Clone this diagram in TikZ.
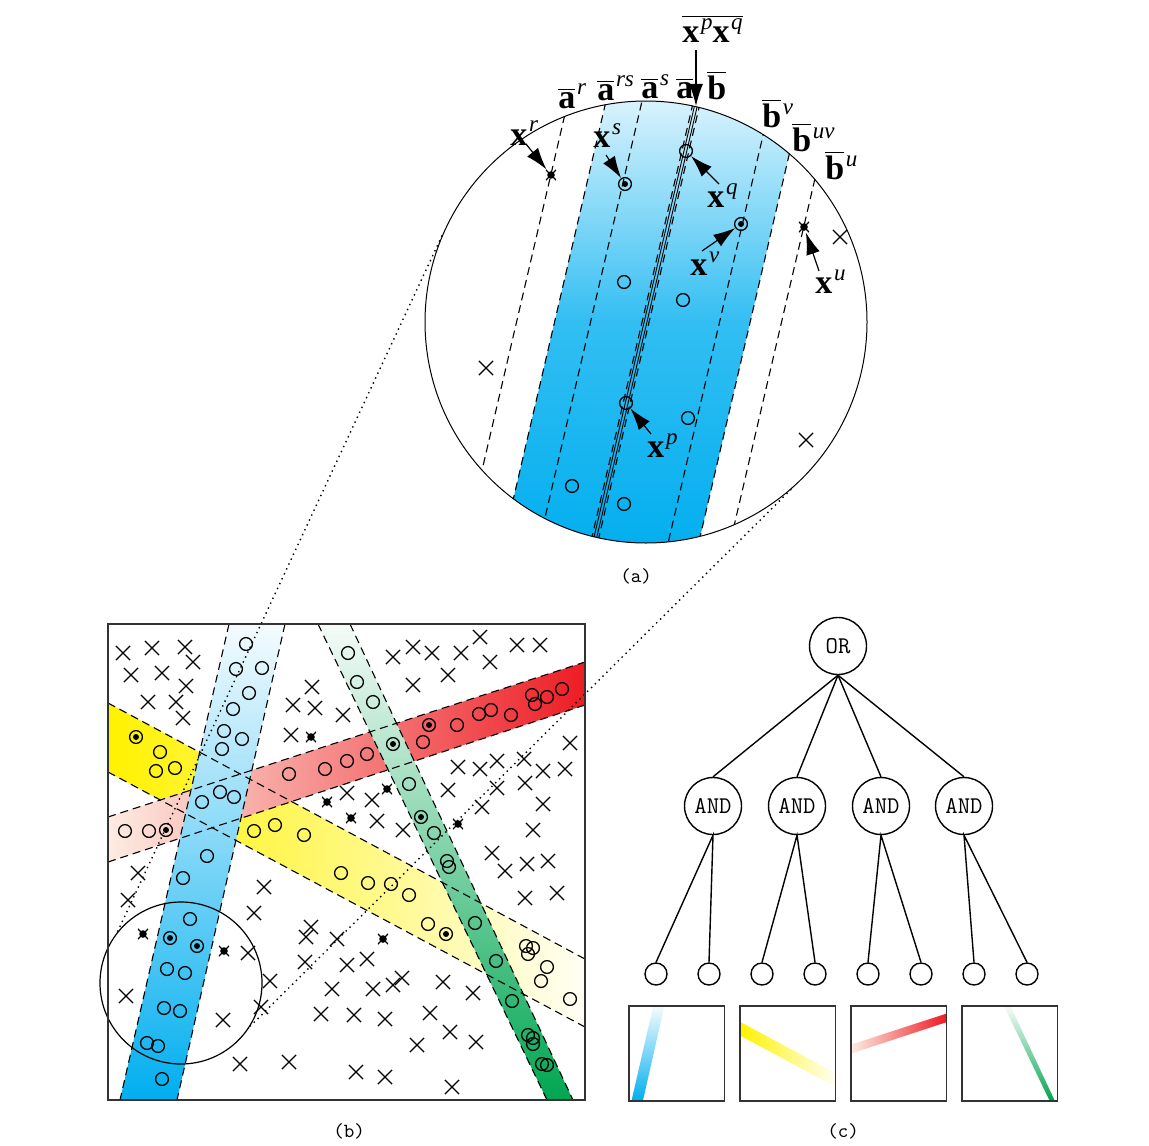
\documentclass[tikz,border=0pt]{standalone}
\usepackage{fontspec}
\usepackage{tikz}
\usetikzlibrary{arrows.meta,shapes.misc}
\newfontfamily\lblfont{Liberation Serif}

\definecolor{cyanB}{RGB}{0,174,239}
\definecolor{yelB}{RGB}{255,242,0}
\definecolor{redB}{RGB}{237,28,36}
\definecolor{redM}{RGB}{242,125,88}
\definecolor{redL}{RGB}{253,236,226}
\definecolor{greenB}{RGB}{0,166,81}

% labels
\newcommand\upidx[1]{\kern0.8pt\raisebox{6.5pt}{\fontsize{11.5}{12}\selectfont\lblfont\mdseries\itshape #1}}
\newcommand\vecx[1]{{\lblfont\bfseries x}\upidx{#1}}
\newcommand\barvec[2]{$\overline{\mbox{\lblfont\bfseries #1}}$\upidx{#2}}

% the four bands, in the coordinates of panel (b)
\newcommand\blueband{\shade[top color=cyanB!4, middle color=cyanB!65, bottom color=cyanB]
  (121,0) -- (177,0) -- (69,476) -- (12,476) -- cycle;}
\newcommand\yellowband{\shade[left color=yelB, right color=yelB!4]
  (0,79) -- (477,335) -- (477,403) -- (0,148) -- cycle;}
\newcommand\redband{\shade[left color=redL, middle color=redM, right color=redB]
  (0,193) -- (477,38) -- (477,81) -- (0,238) -- cycle;}
\newcommand\greenband{\shade[top color=greenB!4, bottom color=greenB]
  (210,0) -- (242,0) -- (465,476) -- (439,476) -- cycle;}

\begin{document}
\begin{tikzpicture}[x=0.5pt, y=-0.5pt,
  bnd/.style={dash pattern=on 4pt off 2.5pt, line width=0.55pt},
  xmark/.style={cross out, draw, minimum size=6.4pt, inner sep=0pt, line width=0.65pt},
  omark/.style={circle, draw, minimum size=6.4pt, inner sep=0pt, line width=0.65pt},
  dmark/.style={omark, path picture={\fill (path picture bounding box.center) circle (1.5pt);}},
  smark/.style={rectangle, minimum size=5.2pt, inner sep=0pt,
    path picture={\fill (path picture bounding box.center) circle (1.9pt);
      \draw[line width=0.6pt] (path picture bounding box.south west) -- (path picture bounding box.north east)
        (path picture bounding box.north west) -- (path picture bounding box.south east);}},
  lbl/.style={inner sep=0pt, anchor=base west, font=\fontsize{17}{20}\selectfont\lblfont},
  ptr/.style={-{Latex[length=11pt,width=7pt]}, line width=0.6pt},
  zoomline/.style={dash pattern=on 0.7pt off 2pt, line width=0.7pt},
  gate/.style={circle, draw, line width=0.7pt, minimum size=28.5pt, inner sep=0pt,
    font=\fontsize{12}{14}\selectfont\ttfamily},
  leaf/.style={circle, draw, line width=0.7pt, minimum size=11pt, inner sep=0pt},
  frame/.style={draw=black!80, line width=0.8pt},
  figtag/.style={font=\fontsize{10}{12}\selectfont\ttfamily}]

\useasboundingbox (0,0) rectangle (1149,1145);

% ---- (a) zoomed view
\begin{scope}
  \clip (646,322) circle[radius=110.5pt];
  \shade[top color=cyanB!12, bottom color=cyanB!80]
    (608.6,90) -- (804.2,90) -- (750.4,321) -- (554.8,321) -- cycle;
  \shade[top color=cyanB!80, bottom color=cyanB]
    (555,320) -- (750.6,320) -- (694.7,560) -- (499.1,560) -- cycle;
  \foreach \x in {517,555,591,642.5,649.5,720,750.6,782}
    \draw[bnd] (\x+53.6,90) -- (\x-55.9,560);
  \foreach \x in {644.6,647.4}
    \draw[line width=0.45pt] (\x+53.6,90) -- (\x-55.9,560);
\end{scope}
\node[circle, draw, line width=0.5pt, minimum size=221pt, inner sep=0pt] (zoomA) at (646,322) {};

\node[smark] (xr) at (551,175) {};
\node[dmark] (xs) at (625,184) {};
\node[omark] (xq) at (686,151) {};
\node[dmark] (xv) at (741,224) {};
\node[smark] (xu) at (804,227) {};
\node[omark] (xp) at (626,403) {};
\foreach \x/\y [count=\i] in {624/282, 683/300, 688/418, 572/486, 624/504}
  \node[omark] (ao\i) at (\x,\y) {};
\foreach \x/\y [count=\i] in {840/237, 486/368, 806/440}
  \node[xmark] (ax\i) at (\x,\y) {};

\node[lbl] (lpq) at (682,43) {$\overline{\mbox{\lblfont\bfseries x\upidx{p}x\upidx{q}}}$};
\node[lbl] (lar) at (558,108) {\barvec{a}{r}};
\node[lbl] (lars) at (597,100) {\barvec{a}{rs}};
\node[lbl] (las) at (641,98) {\barvec{a}{s}};
\node[lbl] (la) at (676,98) {\barvec{a}{}};
\node[lbl] (lb) at (707,99) {\barvec{b}{}};
\node[lbl] (lbv) at (762,127) {\barvec{b}{v}};
\node[lbl] (lbuv) at (792,151) {\barvec{b}{uv}};
\node[lbl] (lbu) at (825,179) {\barvec{b}{u}};

\node[lbl] (lxr) at (510,145) {\vecx{r}};
\node[lbl] (lxs) at (593,148) {\vecx{s}};
\node[lbl] (lxq) at (707,207) {\vecx{q}};
\node[lbl] (lxv) at (690,275) {\vecx{v}};
\node[lbl] (lxu) at (815,293) {\vecx{u}};
\node[lbl] (lxp) at (647,457) {\vecx{p}};

\coordinate (tpq) at (696,50);
\coordinate (hpq) at (696,106);
\coordinate (txr) at (526,144);
\coordinate (txs) at (606,155);
\coordinate (txq) at (719,184);
\coordinate (txv) at (702,251);
\coordinate (txu) at (819,271);
\coordinate (txp) at (651,434);
\draw[ptr] (tpq) -- (hpq);
\draw[ptr] (txr) -- (xr);
\draw[ptr] (txs) -- (xs);
\draw[ptr] (txq) -- (xq);
\draw[ptr] (txv) -- (xv);
\draw[ptr] (txu) -- (xu);
\draw[ptr] (txp) -- (xp);

\node[figtag] (tagA) at (636,576) {(a)};

% ---- (b) the data and the four bands
\begin{scope}[shift={(108,624)}]
  \yellowband
  \redband
  \blueband
  \greenband
  \foreach \xa/\ya/\xb/\yb in {121/0/12/476, 177/0/69/476, 0/79/477/335, 0/148/477/403,
      0/193/477/38, 0/238/477/81, 210/0/439/476, 242/0/465/476}
    \draw[bnd] (\xa,\ya) -- (\xb,\yb);
\end{scope}

\node[circle, draw, line width=0.6pt, minimum size=81pt, inner sep=0pt] (zoomB) at (181,983) {};
\draw[zoomline] (zoomA.157.8) -- (zoomB.141.7);
\draw[zoomline] (zoomA.311.2) -- (zoomB.328.6);

\foreach \x/\y [count=\i] in {123/653, 152/648, 185/647, 193/662, 131/675, 162/673, 186/686,
    148/702, 176/702, 183/718, 312/687, 293/705, 315/708, 343/715, 291/735, 393/657, 413/647,
    432/653, 461/653, 480/637, 490/662, 517/645, 540/645, 448/675, 413/685, 570/743, 458/767,
    480/769, 497/761, 524/759, 543/771, 565/769, 525/783, 448/790, 497/788, 482/807, 543/804,
    347/793, 372/800, 377/821, 403/830, 533/830, 492/853, 505/871, 527/864, 548/861, 525/898,
    557/893, 138/873, 128/900, 264/887, 254/913, 311/927, 306/937, 337/939, 248/953, 305/962,
    347/965, 367/959, 270/981, 402/978, 393/985, 332/989, 373/989, 443/982, 473/993, 126/996,
    261/1007, 223/1020, 321/1014, 354/1015, 385/1019, 430/1013, 450/1032, 476/1042, 417/1045,
    240/1064, 289/1062, 356/1072, 385/1077, 452/1087}
  \node[xmark] (bx\i) at (\x,\y) {};
\foreach \x/\y [count=\i] in {311/737, 387/789, 327/802, 351/818, 458/824, 143/934, 224/951,
    383/939}
  \node[smark] (bs\i) at (\x,\y) {};
\foreach \x/\y [count=\i] in {136/737, 166/830, 393/744, 429/725, 421/817, 170/938, 197/946,
    446/934}
  \node[dmark] (bd\i) at (\x,\y) {};
\foreach \x/\y [count=\i] in {246/644, 236/669, 262/668, 249/693, 233/709, 224/731, 242/739,
    222/749, 220/792, 234/797, 202/802, 207/856, 183/878, 190/919, 167/969, 185/973, 164/1008,
    180/1011, 147/1043, 158/1046, 162/1079, 160/752, 156/771, 175/768, 125/831, 149/831,
    289/774, 325/769, 347/761, 367/754, 423/742, 457/725, 479/714, 491/710, 511/715, 532/695,
    535/704, 547/697, 562/689, 254/831, 275/825, 304/835, 341/873, 368/883, 391/884, 409/895,
    428/924, 526/946, 533/948, 528/954, 547/967, 541/981, 570/999, 348/653, 357/682, 373/702,
    409/784, 434/833, 447/861, 449/867, 475/923, 496/961, 512/1001, 528/1035, 533/1038,
    533/1044, 542/1064, 547/1065}
  \node[omark] (bo\i) at (\x,\y) {};

\draw[frame] (108,624) rectangle (585,1100);
\node[figtag] (tagB) at (349,1131) {(b)};

% ---- (c) the classifier
\node[gate] (or) at (838,646) {OR};
\foreach \x [count=\i] in {713,797,881,964}
  \node[gate] (and\i) at (\x,806) {AND};
\foreach \x [count=\i] in {656,709,762,815,868,921,974,1027}
  \node[leaf] (l\i) at (\x,974) {};
\foreach \i in {1,...,4}
  \draw[line width=0.7pt] (or.south) -- (and\i.north);
\foreach \i/\a/\b in {1/1/2, 2/3/4, 3/5/6, 4/7/8}
  \draw[line width=0.7pt] (l\a.north) -- (and\i.south) -- (l\b.north);

\foreach \bx/\band in {629/\blueband, 740/\yellowband, 851/\redband, 962/\greenband}{
  \begin{scope}[shift={(\bx,1006)}, scale=0.2]
    \band
  \end{scope}
  \draw[frame] (\bx,1006) rectangle ++(95.4,95.2);
}
\node[figtag] (tagC) at (843,1131) {(c)};

\end{tikzpicture}
\end{document}
